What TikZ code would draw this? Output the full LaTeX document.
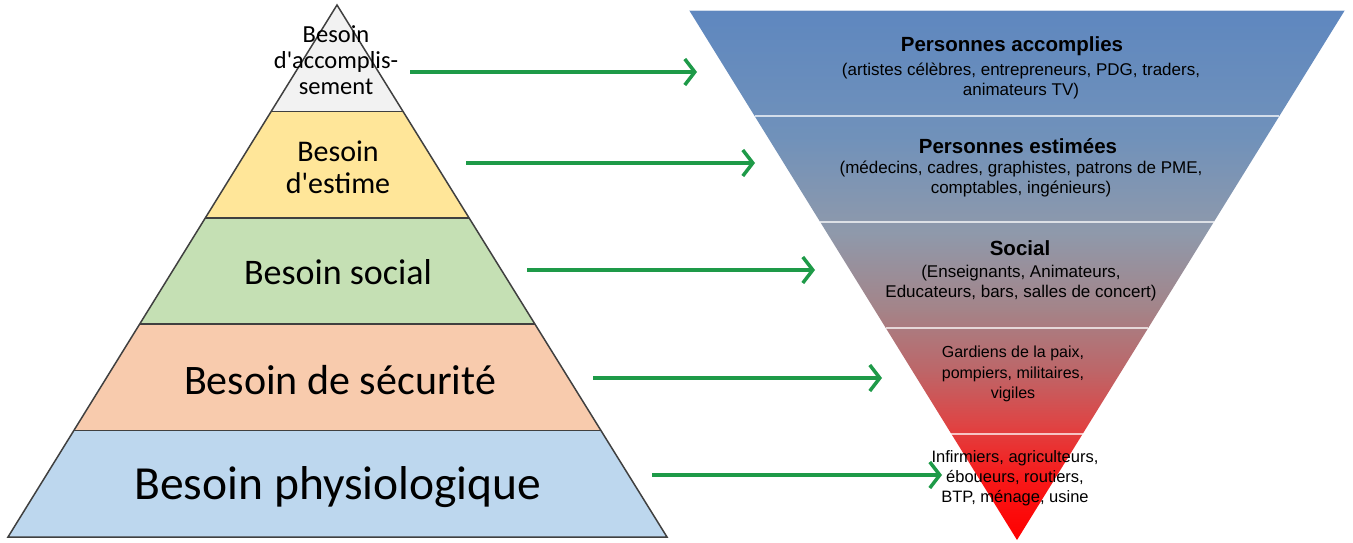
\documentclass[tikz,border=0pt]{standalone}
\usepackage{fontspec}
\setmainfont{Carlito}
\newfontfamily\arialfont{Liberation Sans}
\usetikzlibrary{arrows.meta,calc}
\definecolor{toplayer}{HTML}{F2F2F2}
\definecolor{estlayer}{HTML}{FFE699}
\definecolor{soclayer}{HTML}{C5E0B4}
\definecolor{seclayer}{HTML}{F8CBAD}
\definecolor{phylayer}{HTML}{BDD7EE}
\definecolor{arrowgreen}{HTML}{1E9A48}
\pgfdeclareverticalshading{invgrad}{100bp}{rgb(0bp)=(1,0,0); rgb(25bp)=(1,0,0); rgb(31bp)=(0.97,0.1,0.1); rgb(36bp)=(0.87,0.27,0.27); rgb(41bp)=(0.74,0.4,0.41); rgb(47bp)=(0.64,0.52,0.54); rgb(54bp)=(0.56,0.6,0.67); rgb(63bp)=(0.44,0.57,0.73); rgb(75bp)=(0.37,0.53,0.75); rgb(100bp)=(0.37,0.53,0.75)}

\begin{document}
\begin{tikzpicture}[x=1pt,y=-1pt,
  layer/.style={draw=black!75,line width=1.5pt},
  need/.style={align=center,inner sep=0pt},
  who/.style={align=center,inner sep=0pt,font=\arialfont\fontsize{17}{20}\selectfont},
  whotitle/.style={inner sep=0pt,font=\arialfont\bfseries\fontsize{20.5}{24}\selectfont},
  sep/.style={draw=white,opacity=0.7,line width=1.5pt},
  conn/.style={draw=arrowgreen,line width=3.5pt,-{Straight Barb[length=10pt,width=26pt]}}]
  \useasboundingbox (0,0) rectangle (1353,542);

  % pyramid of needs
  \coordinate (apex) at (337,5);
  \coordinate (bl) at (8,537);
  \coordinate (br) at (667,537);
  \foreach \ta/\tb/\col in {0/0.2/toplayer,0.2/0.4/estlayer,0.4/0.6/soclayer,0.6/0.8/seclayer,0.8/1/phylayer}
    \fill[\col] ($(apex)!\ta!(bl)$) -- ($(apex)!\tb!(bl)$) -- ($(apex)!\tb!(br)$) -- ($(apex)!\ta!(br)$) -- cycle;
  \foreach \t in {0.2,0.4,0.6,0.8}
    \draw[layer] ($(apex)!\t!(bl)$) -- ($(apex)!\t!(br)$);
  \draw[layer] (apex) -- (bl) -- (br) -- cycle;

  \node[need,font=\fontsize{24.5}{26}\selectfont] (accomp) at (336,60) {Besoin\\d\textquotesingle accomplis-\\sement};
  \node[need,font=\fontsize{30}{32}\selectfont] (estime) at (338,167) {Besoin\\d\textquotesingle estime};
  \node[need,font=\fontsize{36}{40}\selectfont] (social) at (338,272) {Besoin social};
  \node[need,font=\fontsize{42}{46}\selectfont] (secu) at (340,380) {Besoin de sécurité};
  \node[need,font=\fontsize{47.5}{52}\selectfont] (physio) at (338,487) {Besoin physiologique};

  % inverted triangle of jobs
  \coordinate (tl) at (689,10);
  \coordinate (tr) at (1345,10);
  \coordinate (tip) at (1017,540);
  \shade[shading=invgrad] (tl) -- (tr) -- (tip) -- cycle;
  \foreach \t in {0,0.2,0.4,0.6,0.8}
    \draw[sep] ($(tl)!\t!(tip)$) -- ($(tr)!\t!(tip)$);

  \node[whotitle] (accomplies) at (1012,46) {Personnes accomplies};
  \node[who] (accompliesex) at (1021,81) {(artistes célèbres, entrepreneurs, PDG, traders,\\animateurs TV)};
  \node[whotitle] (estimees) at (1018,146) {Personnes estimées};
  \node[who] (estimeesex) at (1021,179) {(médecins, cadres, graphistes, patrons de PME,\\comptables, ingénieurs)};
  \node[whotitle] (socialt) at (1020,248) {Social};
  \node[who] (socialex) at (1021,283) {(Enseignants, Animateurs,\\Educateurs, bars, salles de concert)};
  \node[who,font=\arialfont\fontsize{16}{20.5}\selectfont] (gardiens) at (1013,374) {Gardiens de la paix,\\pompiers, militaires,\\vigiles};
  \node[who,font=\arialfont\fontsize{16.5}{20}\selectfont] (infirm) at (1015,478) {Infirmiers, agriculteurs,\\éboueurs, routiers,\\BTP, ménage, usine};

  % arrows between the two
  \coordinate (s1) at (410,72);  \coordinate (e1) at (697,72);
  \coordinate (s2) at (466,163); \coordinate (e2) at (755,163);
  \coordinate (s3) at (527,270); \coordinate (e3) at (815,270);
  \coordinate (s4) at (593,378); \coordinate (e4) at (882,378);
  \coordinate (s5) at (652,475); \coordinate (e5) at (942,475);
  \foreach \i in {1,...,5}
    \draw[conn] (s\i) -- (e\i);
\end{tikzpicture}
\end{document}
